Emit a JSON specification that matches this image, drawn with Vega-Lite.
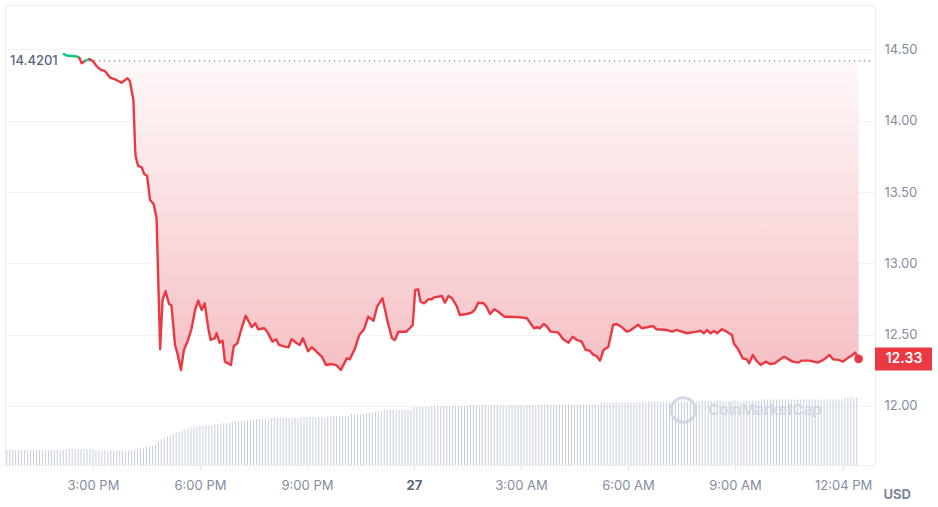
{
"$schema": "https://vega.github.io/schema/vega-lite/v6.json",
"autosize": "none",
"width": 870,
"height": 460,
"padding": {"left": 5, "top": 5, "right": 63, "bottom": 42},
"background": "white",
"config": {"font": "Inter", "view": {"stroke": "#eceff3", "strokeWidth": 1}, "axis": {"labelFont": "Inter", "labelFontSize": 13, "labelColor": "#858ca2"}},
"datasets": {
"vol": [
{"t":755,"v":1.5},{"t":760,"v":1.5},{"t":765,"v":1.5},{"t":770,"v":1.5},{"t":775,"v":1.5},{"t":780,"v":1.5},{"t":785,"v":1.5},{"t":790,"v":1.5},{"t":795,"v":1.5},{"t":800,"v":1.5},{"t":805,"v":1.5},{"t":810,"v":1.5},{"t":815,"v":1.5},{"t":820,"v":1.5},{"t":825,"v":1.5},{"t":830,"v":1.5},{"t":835,"v":1.5},{"t":840,"v":1.5},{"t":845,"v":1.5},{"t":850,"v":1.5},
{"t":855,"v":1.6},{"t":860,"v":1.6},{"t":865,"v":1.6},{"t":870,"v":1.6},{"t":875,"v":1.6},{"t":880,"v":1.6},{"t":885,"v":1.6},{"t":890,"v":1.6},{"t":895,"v":1.6},{"t":900,"v":1.6},
{"t":905,"v":1.45},{"t":910,"v":1.45},{"t":915,"v":1.45},{"t":920,"v":1.45},{"t":925,"v":1.45},{"t":930,"v":1.45},{"t":935,"v":1.45},{"t":940,"v":1.45},{"t":945,"v":1.45},{"t":950,"v":1.45},{"t":955,"v":1.45},{"t":960,"v":1.45},{"t":965,"v":1.45},
{"t":970,"v":1.5},{"t":975,"v":1.6},{"t":980,"v":1.67},{"t":985,"v":1.73},{"t":990,"v":1.8},{"t":995,"v":1.85},{"t":1000,"v":1.9},{"t":1005,"v":2.05},{"t":1010,"v":2.4},{"t":1015,"v":2.6},{"t":1020,"v":2.75},{"t":1025,"v":2.85},{"t":1030,"v":2.95},{"t":1035,"v":3.1},{"t":1040,"v":3.25},{"t":1045,"v":3.3},{"t":1050,"v":3.45},{"t":1055,"v":3.55},{"t":1060,"v":3.65},{"t":1065,"v":3.75},{"t":1070,"v":3.8},{"t":1075,"v":3.85},{"t":1080,"v":3.9},{"t":1085,"v":3.92},{"t":1090,"v":3.97},{"t":1095,"v":4.0},{"t":1100,"v":4.0},{"t":1105,"v":4.1},{"t":1110,"v":4.1},{"t":1115,"v":4.17},{"t":1120,"v":4.17},{"t":1125,"v":4.17},{"t":1130,"v":4.23},{"t":1135,"v":4.3},{"t":1140,"v":4.37},{"t":1145,"v":4.37},{"t":1150,"v":4.37},{"t":1155,"v":4.47},{"t":1160,"v":4.47},{"t":1165,"v":4.47},{"t":1170,"v":4.55},
{"t":1175,"v":4.6},{"t":1180,"v":4.6},{"t":1185,"v":4.6},{"t":1190,"v":4.6},{"t":1195,"v":4.6},
{"t":1200,"v":4.7},{"t":1205,"v":4.7},{"t":1210,"v":4.7},{"t":1215,"v":4.7},{"t":1220,"v":4.7},{"t":1225,"v":4.7},{"t":1230,"v":4.7},{"t":1235,"v":4.7},{"t":1240,"v":4.7},{"t":1245,"v":4.7},
{"t":1250,"v":4.8},{"t":1255,"v":4.8},{"t":1260,"v":4.8},{"t":1265,"v":4.8},{"t":1270,"v":4.8},{"t":1275,"v":4.8},{"t":1280,"v":4.8},{"t":1285,"v":4.8},{"t":1290,"v":4.8},
{"t":1295,"v":4.9},{"t":1300,"v":4.9},{"t":1305,"v":4.9},{"t":1310,"v":4.9},{"t":1315,"v":4.9},{"t":1320,"v":4.9},{"t":1325,"v":4.9},{"t":1330,"v":4.9},
{"t":1335,"v":5.1},{"t":1340,"v":5.1},{"t":1345,"v":5.1},{"t":1350,"v":5.1},{"t":1355,"v":5.1},
{"t":1360,"v":5.2},{"t":1365,"v":5.2},{"t":1370,"v":5.2},
{"t":1375,"v":5.35},{"t":1380,"v":5.35},{"t":1385,"v":5.35},
{"t":1390,"v":5.5},{"t":1395,"v":5.5},{"t":1400,"v":5.5},{"t":1405,"v":5.5},{"t":1410,"v":5.5},{"t":1415,"v":5.5},{"t":1420,"v":5.5},{"t":1425,"v":5.5},{"t":1430,"v":5.5},{"t":1435,"v":5.5},
{"t":1440,"v":5.8},{"t":1445,"v":5.8},{"t":1450,"v":5.8},{"t":1455,"v":5.8},{"t":1460,"v":5.8},{"t":1465,"v":5.8},
{"t":1470,"v":5.9},{"t":1475,"v":5.9},{"t":1480,"v":5.9},{"t":1485,"v":5.9},{"t":1490,"v":5.9},{"t":1495,"v":5.9},{"t":1500,"v":5.9},{"t":1505,"v":5.9},{"t":1510,"v":5.9},{"t":1515,"v":5.9},{"t":1520,"v":5.9},{"t":1525,"v":5.9},{"t":1530,"v":5.9},
{"t":1535,"v":6.0},{"t":1540,"v":6.0},{"t":1545,"v":6.0},{"t":1550,"v":6.0},{"t":1555,"v":6.0},{"t":1560,"v":6.0},{"t":1565,"v":6.0},{"t":1570,"v":6.0},{"t":1575,"v":6.0},{"t":1580,"v":6.0},{"t":1585,"v":6.0},{"t":1590,"v":6.0},{"t":1595,"v":6.0},{"t":1600,"v":6.0},{"t":1605,"v":6.0},{"t":1610,"v":6.0},{"t":1615,"v":6.0},{"t":1620,"v":6.0},{"t":1625,"v":6.0},{"t":1630,"v":6.0},{"t":1635,"v":6.0},{"t":1640,"v":6.0},{"t":1645,"v":6.0},{"t":1650,"v":6.0},
{"t":1655,"v":6.07},{"t":1660,"v":6.07},{"t":1665,"v":6.07},{"t":1670,"v":6.07},{"t":1675,"v":6.07},{"t":1680,"v":6.07},{"t":1685,"v":6.07},{"t":1690,"v":6.07},{"t":1695,"v":6.07},{"t":1700,"v":6.07},{"t":1705,"v":6.07},{"t":1710,"v":6.07},{"t":1715,"v":6.07},{"t":1720,"v":6.07},{"t":1725,"v":6.07},{"t":1730,"v":6.07},{"t":1735,"v":6.07},{"t":1740,"v":6.07},{"t":1745,"v":6.07},{"t":1750,"v":6.07},
{"t":1755,"v":6.23},{"t":1760,"v":6.23},{"t":1765,"v":6.23},{"t":1770,"v":6.23},{"t":1775,"v":6.23},{"t":1780,"v":6.23},{"t":1785,"v":6.23},{"t":1790,"v":6.23},{"t":1795,"v":6.23},{"t":1800,"v":6.23},{"t":1805,"v":6.23},{"t":1810,"v":6.23},{"t":1815,"v":6.23},{"t":1820,"v":6.23},
{"t":1825,"v":6.33},{"t":1830,"v":6.33},{"t":1835,"v":6.33},{"t":1840,"v":6.33},{"t":1845,"v":6.33},{"t":1850,"v":6.33},{"t":1855,"v":6.33},{"t":1860,"v":6.33},{"t":1865,"v":6.33},{"t":1870,"v":6.33},{"t":1875,"v":6.33},{"t":1880,"v":6.33},{"t":1885,"v":6.33},{"t":1890,"v":6.33},{"t":1895,"v":6.33},{"t":1900,"v":6.33},{"t":1905,"v":6.33},{"t":1910,"v":6.33},{"t":1915,"v":6.33},{"t":1920,"v":6.33},
{"t":1925,"v":6.43},{"t":1930,"v":6.43},{"t":1935,"v":6.43},{"t":1940,"v":6.43},{"t":1945,"v":6.43},{"t":1950,"v":6.43},{"t":1955,"v":6.43},{"t":1960,"v":6.43},{"t":1965,"v":6.43},{"t":1970,"v":6.43},{"t":1975,"v":6.43},{"t":1980,"v":6.43},{"t":1985,"v":6.43},{"t":1990,"v":6.43},{"t":1995,"v":6.43},{"t":2000,"v":6.43},{"t":2005,"v":6.43},{"t":2010,"v":6.43},{"t":2015,"v":6.43},{"t":2020,"v":6.43},
{"t":2025,"v":6.55},{"t":2030,"v":6.55},{"t":2035,"v":6.55},{"t":2040,"v":6.55},{"t":2045,"v":6.55},{"t":2050,"v":6.55},{"t":2055,"v":6.55},{"t":2060,"v":6.55},{"t":2065,"v":6.55},{"t":2070,"v":6.55},{"t":2075,"v":6.55},{"t":2080,"v":6.55},{"t":2085,"v":6.55},{"t":2090,"v":6.55},{"t":2095,"v":6.55},{"t":2100,"v":6.55},{"t":2105,"v":6.55},{"t":2110,"v":6.55},{"t":2115,"v":6.55},{"t":2120,"v":6.55},{"t":2125,"v":6.55},{"t":2130,"v":6.55},{"t":2135,"v":6.55},{"t":2140,"v":6.55},{"t":2145,"v":6.55},{"t":2150,"v":6.55},{"t":2155,"v":6.55},{"t":2160,"v":6.55},
{"t":2165,"v":6.75},{"t":2170,"v":6.75},{"t":2175,"v":6.75},{"t":2180,"v":6.75},{"t":2185,"v":6.75}
],
"price": [
{"t":851,"p":14.468,"s":1},{"t":857,"p":14.456,"s":1},{"t":867,"p":14.454,"s":1},{"t":874,"p":14.449,"s":1},{"t":877,"p":14.442,"s":1},
{"t":877,"p":14.442,"s":2},{"t":881,"p":14.403,"s":2},{"t":887,"p":14.421,"s":2},
{"t":887,"p":14.421,"s":3},{"t":894,"p":14.433,"s":3},
{"t":894,"p":14.433,"s":4},{"t":900,"p":14.417,"s":4},{"t":906,"p":14.384,"s":4},{"t":912,"p":14.361,"s":4},{"t":920,"p":14.349,"s":4},{"t":929,"p":14.302,"s":4},{"t":937,"p":14.291,"s":4},{"t":948,"p":14.267,"s":4},{"t":958,"p":14.298,"s":4},{"t":962,"p":14.281,"s":4},{"t":968,"p":14.146,"s":4},{"t":971,"p":13.795,"s":4},{"t":972,"p":13.744,"s":4},{"t":976,"p":13.683,"s":4},{"t":982,"p":13.674,"s":4},{"t":986,"p":13.627,"s":4},{"t":991,"p":13.615,"s":4},{"t":996,"p":13.445,"s":4},{"t":1002,"p":13.416,"s":4},{"t":1007,"p":13.316,"s":4},{"t":1013,"p":12.398,"s":4},{"t":1017,"p":12.743,"s":4},{"t":1022,"p":12.806,"s":4},{"t":1028,"p":12.715,"s":4},{"t":1032,"p":12.706,"s":4},{"t":1038,"p":12.428,"s":4},{"t":1042,"p":12.369,"s":4},{"t":1048,"p":12.252,"s":4},{"t":1053,"p":12.393,"s":4},{"t":1060,"p":12.463,"s":4},{"t":1066,"p":12.545,"s":4},{"t":1072,"p":12.678,"s":4},{"t":1077,"p":12.738,"s":4},{"t":1083,"p":12.673,"s":4},{"t":1088,"p":12.72,"s":4},{"t":1094,"p":12.545,"s":4},{"t":1098,"p":12.463,"s":4},{"t":1105,"p":12.475,"s":4},{"t":1108,"p":12.51,"s":4},{"t":1113,"p":12.444,"s":4},{"t":1118,"p":12.458,"s":4},{"t":1122,"p":12.311,"s":4},{"t":1132,"p":12.287,"s":4},{"t":1137,"p":12.421,"s":4},{"t":1143,"p":12.44,"s":4},{"t":1150,"p":12.545,"s":4},{"t":1157,"p":12.633,"s":4},{"t":1167,"p":12.552,"s":4},{"t":1173,"p":12.58,"s":4},{"t":1178,"p":12.538,"s":4},{"t":1188,"p":12.545,"s":4},{"t":1193,"p":12.521,"s":4},{"t":1202,"p":12.451,"s":4},{"t":1208,"p":12.468,"s":4},{"t":1213,"p":12.428,"s":4},{"t":1223,"p":12.416,"s":4},{"t":1229,"p":12.412,"s":4},{"t":1234,"p":12.468,"s":4},{"t":1243,"p":12.44,"s":4},{"t":1248,"p":12.428,"s":4},{"t":1253,"p":12.475,"s":4},{"t":1262,"p":12.384,"s":4},{"t":1268,"p":12.412,"s":4},{"t":1279,"p":12.369,"s":4},{"t":1285,"p":12.346,"s":4},{"t":1292,"p":12.287,"s":4},{"t":1302,"p":12.294,"s":4},{"t":1309,"p":12.287,"s":4},{"t":1317,"p":12.252,"s":4},{"t":1327,"p":12.334,"s":4},{"t":1332,"p":12.327,"s":4},{"t":1341,"p":12.405,"s":4},{"t":1348,"p":12.498,"s":4},{"t":1356,"p":12.538,"s":4},{"t":1363,"p":12.626,"s":4},{"t":1372,"p":12.598,"s":4},{"t":1378,"p":12.696,"s":4},{"t":1387,"p":12.755,"s":4},{"t":1395,"p":12.603,"s":4},{"t":1403,"p":12.475,"s":4},{"t":1408,"p":12.463,"s":4},{"t":1414,"p":12.521,"s":4},{"t":1427,"p":12.521,"s":4},{"t":1433,"p":12.545,"s":4},{"t":1438,"p":12.568,"s":4},{"t":1442,"p":12.813,"s":4},{"t":1447,"p":12.818,"s":4},{"t":1451,"p":12.731,"s":4},{"t":1457,"p":12.72,"s":4},{"t":1464,"p":12.748,"s":4},{"t":1470,"p":12.748,"s":4},{"t":1474,"p":12.762,"s":4},{"t":1487,"p":12.771,"s":4},{"t":1492,"p":12.724,"s":4},{"t":1498,"p":12.771,"s":4},{"t":1504,"p":12.755,"s":4},{"t":1512,"p":12.701,"s":4},{"t":1517,"p":12.638,"s":4},{"t":1529,"p":12.645,"s":4},{"t":1537,"p":12.654,"s":4},{"t":1543,"p":12.678,"s":4},{"t":1548,"p":12.724,"s":4},{"t":1557,"p":12.72,"s":4},{"t":1562,"p":12.696,"s":4},{"t":1568,"p":12.645,"s":4},{"t":1575,"p":12.678,"s":4},{"t":1582,"p":12.661,"s":4},{"t":1592,"p":12.626,"s":4},{"t":1599,"p":12.626,"s":4},{"t":1618,"p":12.622,"s":4},{"t":1630,"p":12.615,"s":4},{"t":1642,"p":12.545,"s":4},{"t":1647,"p":12.552,"s":4},{"t":1652,"p":12.545,"s":4},{"t":1658,"p":12.575,"s":4},{"t":1663,"p":12.561,"s":4},{"t":1670,"p":12.521,"s":4},{"t":1683,"p":12.514,"s":4},{"t":1691,"p":12.468,"s":4},{"t":1700,"p":12.444,"s":4},{"t":1707,"p":12.486,"s":4},{"t":1714,"p":12.463,"s":4},{"t":1722,"p":12.451,"s":4},{"t":1729,"p":12.393,"s":4},{"t":1735,"p":12.389,"s":4},{"t":1742,"p":12.358,"s":4},{"t":1747,"p":12.351,"s":4},{"t":1753,"p":12.318,"s":4},{"t":1759,"p":12.393,"s":4},{"t":1767,"p":12.416,"s":4},{"t":1775,"p":12.568,"s":4},{"t":1781,"p":12.575,"s":4},{"t":1790,"p":12.552,"s":4},{"t":1798,"p":12.521,"s":4},{"t":1803,"p":12.528,"s":4},{"t":1809,"p":12.545,"s":4},{"t":1817,"p":12.57,"s":4},{"t":1823,"p":12.545,"s":4},{"t":1832,"p":12.552,"s":4},{"t":1842,"p":12.561,"s":4},{"t":1848,"p":12.538,"s":4},{"t":1865,"p":12.533,"s":4},{"t":1874,"p":12.521,"s":4},{"t":1882,"p":12.533,"s":4},{"t":1899,"p":12.51,"s":4},{"t":1916,"p":12.521,"s":4},{"t":1922,"p":12.528,"s":4},{"t":1928,"p":12.51,"s":4},{"t":1933,"p":12.533,"s":4},{"t":1939,"p":12.51,"s":4},{"t":1945,"p":12.526,"s":4},{"t":1950,"p":12.51,"s":4},{"t":1958,"p":12.538,"s":4},{"t":1966,"p":12.521,"s":4},{"t":1975,"p":12.498,"s":4},{"t":1978,"p":12.44,"s":4},{"t":1986,"p":12.393,"s":4},{"t":1993,"p":12.334,"s":4},{"t":2000,"p":12.327,"s":4},{"t":2004,"p":12.299,"s":4},{"t":2010,"p":12.358,"s":4},{"t":2015,"p":12.323,"s":4},{"t":2023,"p":12.287,"s":4},{"t":2032,"p":12.311,"s":4},{"t":2039,"p":12.294,"s":4},{"t":2047,"p":12.299,"s":4},{"t":2056,"p":12.327,"s":4},{"t":2063,"p":12.346,"s":4},{"t":2070,"p":12.327,"s":4},{"t":2077,"p":12.311,"s":4},{"t":2087,"p":12.304,"s":4},{"t":2092,"p":12.318,"s":4},{"t":2106,"p":12.318,"s":4},{"t":2119,"p":12.304,"s":4},{"t":2129,"p":12.323,"s":4},{"t":2139,"p":12.358,"s":4},{"t":2145,"p":12.327,"s":4},{"t":2154,"p":12.323,"s":4},{"t":2162,"p":12.311,"s":4},{"t":2171,"p":12.341,"s":4},{"t":2176,"p":12.351,"s":4},{"t":2182,"p":12.374,"s":4},{"t":2188,"p":12.33,"s":4}
]
},
"layer": [
{
"data": {"name": "vol"},
"mark": {"type": "rule", "color": "#c6cedd", "strokeWidth": 1},
"encoding": {
"x": {"field": "t", "type": "quantitative", "scale": {"domain": [752, 2215.6], "nice": false, "zero": false},
"axis": {"title": null, "values": [900, 1080, 1260, 1440, 1620, 1800, 1980, 2162], "grid": false, "domain": false, "ticks": true, "tickSize": 5, "tickColor": "#e3e7ee", "labelPadding": 9, "labelFontSize": 13, "labelFlush": false, "labelOverlap": false,
"labelExpr": "datum.value == 900 ? '3:00 PM' : datum.value == 1080 ? '6:00 PM' : datum.value == 1260 ? '9:00 PM' : datum.value == 1440 ? '27' : datum.value == 1620 ? '3:00 AM' : datum.value == 1800 ? '6:00 AM' : datum.value == 1980 ? '9:00 AM' : '12:04 PM'",
"labelColor": {"condition": {"test": "datum.value == 1440", "value": "#58667e"}, "value": "#858ca2"},
"labelFontWeight": {"condition": {"test": "datum.value == 1440", "value": "bold"}, "value": "normal"}}},
"y": {"field": "v", "type": "quantitative", "scale": {"domain": [0, 46]}, "axis": null},
"y2": {"datum": 0}
}
},
{
"layer": [
{
"data": {"name": "price"},
"mark": {"type": "area", "color": {"x1": 0, "y1": 0, "x2": 0, "y2": 1, "gradient": "linear", "stops": [{"offset": 0, "color": "#fffafa"}, {"offset": 1, "color": "#f5c0c5"}]}},
"encoding": {
"x": {"field": "t", "type": "quantitative", "scale": {"domain": [752, 2215.6], "nice": false, "zero": false}},
"y": {"field": "p", "type": "quantitative", "scale": {"domain": [11.586, 14.812], "nice": false, "zero": false},
"axis": {"orient": "right", "values": [12, 12.5, 13, 13.5, 14, 14.5], "format": ".2f", "grid": true, "gridColor": "#f0f2f5", "ticks": false, "domain": false, "labelPadding": 9, "labelFontSize": 13, "labelColor": "#858ca2",
"title": "USD", "titleAngle": 0, "titleX": 8, "titleY": 489, "titleAlign": "left", "titleBaseline": "middle", "titleColor": "#7d869b", "titleFontSize": 13, "titleFontWeight": "bold"}},
"y2": {"datum": 14.4201}
}
},
{
"data": {"values": [{}]},
"mark": {"type": "rule", "color": "#8d94a8", "strokeDash": [1.5, 3.5], "strokeWidth": 1.2},
"encoding": {"x": {"datum": 893}, "x2": {"datum": 2210}, "y": {"datum": 14.4201}}
},
{
"data": {"name": "price"},
"mark": {"type": "line", "strokeWidth": 2.4, "strokeJoin": "round", "strokeCap": "round"},
"encoding": {
"x": {"field": "t", "type": "quantitative"},
"y": {"field": "p", "type": "quantitative"},
"color": {"field": "s", "type": "nominal", "scale": {"domain": [1, 2, 3, 4], "range": ["#16c784", "#ea3943", "#16c784", "#ea3943"]}, "legend": null}
}
},
{
"data": {"name": "price"},
"transform": [{"filter": "datum.t == 2188"}],
"mark": {"type": "point", "filled": true, "size": 75, "color": "#ea3943", "opacity": 1},
"encoding": {"x": {"field": "t", "type": "quantitative"}, "y": {"field": "p", "type": "quantitative"}}
},
{
"data": {"values": [{}]},
"mark": {"type": "text", "text": "14.4201", "align": "left", "baseline": "middle", "dx": 5, "fontSize": 13, "fontWeight": 500, "color": "#58667e"},
"encoding": {"x": {"datum": 752}, "y": {"datum": 14.4201}}
},
{
"data": {"values": [{}]},
"mark": {"type": "rect", "color": "#ea3943", "x2Offset": 57, "yOffset": -11.5, "y2Offset": 11.5},
"encoding": {"x": {"datum": 2215.6}, "x2": {"datum": 2215.6}, "y": {"datum": 12.33}, "y2": {"datum": 12.33}}
},
{
"data": {"values": [{}]},
"mark": {"type": "text", "text": "12.33", "align": "center", "baseline": "middle", "dx": 29, "fontSize": 14, "fontWeight": 600, "color": "white"},
"encoding": {"x": {"datum": 2215.6}, "y": {"datum": 12.33}}
},
{
"data": {"values": [{}]},
"mark": {"type": "text", "text": "CoinMarketCap", "align": "left", "baseline": "middle", "fontSize": 15, "fontWeight": 600, "color": "#cfd6e2", "opacity": 0.9},
"encoding": {"x": {"datum": 1935}, "y": {"datum": 11.972}}
},
{
"data": {"values": [{}]},
"mark": {"type": "point", "shape": "circle", "filled": false, "size": 600, "strokeWidth": 3, "color": "#cfd6e2", "opacity": 0.9},
"encoding": {"x": {"datum": 1893}, "y": {"datum": 11.972}}
}
]
}
],
"resolve": {"scale": {"y": "independent"}}
}
